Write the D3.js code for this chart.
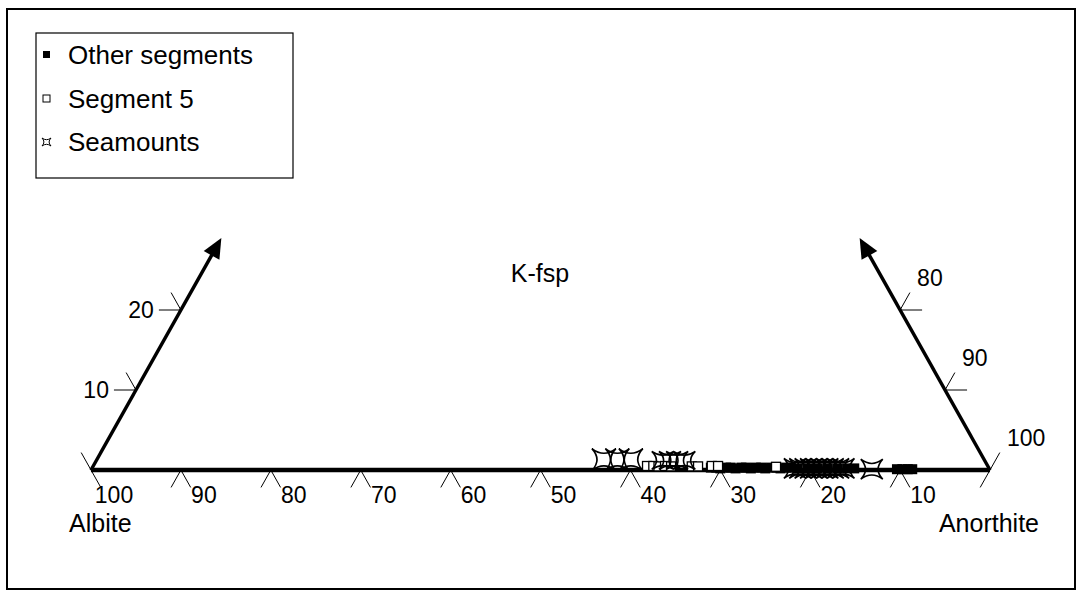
<!DOCTYPE html>
<html>
<head>
<meta charset="utf-8">
<script src="https://cdn.jsdelivr.net/npm/d3@7/dist/d3.min.js"></script>
<style>
  html, body { margin: 0; padding: 0; background: #fff; }
  svg { display: block; }
  text { font-family: "Liberation Sans", Arial, sans-serif; fill: #000; }
</style>
</head>
<body>
<svg id="chart" width="1081" height="594"></svg>
<script>
// Feldspar ternary: Albite – Anorthite – K-feldspar (mol %)
// Each sample given as An and Or; Ab = 100 - An - Or.

const seriesNames = ["Other segments", "Segment 5", "Seamounts"];

const otherAn = [68.8, 69.4, 69.9, 70.5, 71.0, 71.6, 72.2, 72.7, 73.3, 73.8, 74.4, 74.9, 75.5, 76.1, 76.6, 77.2, 77.7,
                 78.5, 79.6, 80.7, 81.8, 82.9, 84.0, 84.8, 89.6, 90.2, 90.8, 91.3];
const otherOr = [0.3, 0.3, 0.2, 0.3, 0.3, 0.2, 0.3, 0.3, 0.2, 0.3, 0.3, 0.2, 0.3, 0.3, 0.2, 0.3, 0.3,
                 0.2, 0.2, 0.2, 0.2, 0.2, 0.2, 0.2, 0.1, 0.1, 0.1, 0.1];

const seg5An = [61.6, 62.3, 62.9, 63.6, 64.3, 66.6, 67.3, 68.8, 69.5, 76.0];
const seg5Or = [0.5, 0.5, 0.45, 0.5, 0.45, 0.45, 0.45, 0.5, 0.5, 0.4];

const seamountAn = [56.4, 57.9, 59.4, 63.0, 63.8, 64.6, 65.4,
                    78.2, 78.8, 79.4, 80.0, 80.6, 81.2, 81.8, 82.4, 83.0, 83.6, 86.8];
const seamountOr = [1.3, 1.3, 1.3, 1.2, 1.2, 1.2, 1.2,
                    0.2, 0.2, 0.2, 0.2, 0.2, 0.2, 0.2, 0.2, 0.2, 0.2, 0.1];

const bottomTicks = [100, 90, 80, 70, 60, 50, 40, 30, 20, 10, 0];   // Albite %
const leftTicks = [0, 10, 20];                                     // K-fsp %
const rightTicks = [100, 90, 80];                                  // Anorthite %
const arrowReach = 29;                                             // K-fsp % where the side arrows stop

const tickFont = 23, titleFont = 25, legendFont = 26;

const svg = d3.select("#chart");

// Horizontal position of the baseline (An %) and vertical height (Or %)
const xS = d3.scaleLinear().domain([0, 100]).range([91, 990]);
const yS = d3.scaleLinear().domain([0, 100]).range([470, -330]);
const proj = (an, or) => [xS(an + or / 2), yS(or)];

// Outer frame
svg.append("rect")
  .attr("x", 7).attr("y", 9).attr("width", 1068).attr("height", 580)
  .attr("fill", "none").attr("stroke", "#000").attr("stroke-width", 2);

// Unit vectors along the two sloping sides
const [ax, ay] = proj(0, 0), [tx, ty] = proj(0, 100);
const L = Math.hypot(tx - ax, ty - ay);
const leg = 20;
const ux = (tx - ax) / L * leg, uy = (ty - ay) / L * leg;   // up-right (left side)

const g = svg.append("g");
const line = (x1, y1, x2, y2, w) => g.append("line")
  .attr("x1", x1).attr("y1", y1).attr("x2", x2).attr("y2", y2)
  .attr("stroke", "#000").attr("stroke-width", w);

// Bottom (Albite) ticks: two short legs pointing away from the triangle
bottomTicks.forEach(ab => {
  const [x, y] = proj(100 - ab, 0);
  if (ab < 100) line(x, y, x - ux, y - uy, 1);
  if (ab > 0) line(x, y, x + ux, y - uy, 1);
  if (ab > 0) {
    g.append("text").attr("x", x + 23).attr("y", y + 25)
      .attr("text-anchor", "middle").attr("dominant-baseline", "central")
      .attr("font-size", tickFont).text(ab);
  }
});

// Left side (K-fsp) ticks
leftTicks.forEach(or => {
  const [x, y] = proj(0, or);
  line(x, y, x - ux, y + uy, 1);
  if (or > 0) {
    line(x, y, x - 22, y, 1);
    g.append("text").attr("x", x - 27).attr("y", y)
      .attr("text-anchor", "end").attr("dominant-baseline", "central")
      .attr("font-size", tickFont).text(or);
  }
});

// Right side (Anorthite) ticks
rightTicks.forEach(an => {
  const [x, y] = proj(an, 100 - an);
  line(x, y, x + ux, y + uy, 1);
  if (an < 100) line(x, y, x + 22, y, 1);
  g.append("text").attr("x", x + 17).attr("y", y - 32)
    .attr("text-anchor", "start").attr("dominant-baseline", "central")
    .attr("font-size", tickFont).text(an);
});

// Baseline
const [bx0, by0] = proj(0, 0), [bx1, by1] = proj(100, 0);
line(bx0, by0, bx1, by1, 4.5);

// Side arrows
function arrow(from, to) {
  const dx = to[0] - from[0], dy = to[1] - from[1], d = Math.hypot(dx, dy);
  const ex = dx / d, ey = dy / d, len = 20, hw = 9;
  const bx = to[0] - ex * len, by = to[1] - ey * len;
  line(from[0], from[1], bx + ex * 2, by + ey * 2, 3.5);
  g.append("path")
    .attr("d", `M${to[0]},${to[1]} L${bx - ey * hw},${by + ex * hw} L${bx + ey * hw},${by - ex * hw} Z`)
    .attr("fill", "#000");
}
arrow(proj(0, 0), proj(0, arrowReach));
arrow(proj(100, 0), proj(100 - arrowReach, arrowReach));

// Corner and apex labels
svg.append("text").attr("x", 69).attr("y", 523).attr("dominant-baseline", "central")
  .attr("font-size", titleFont).text("Albite");
svg.append("text").attr("x", 1039).attr("y", 523).attr("text-anchor", "end")
  .attr("dominant-baseline", "central").attr("font-size", titleFont).text("Anorthite");
svg.append("text").attr("x", 540).attr("y", 273).attr("text-anchor", "middle")
  .attr("dominant-baseline", "central").attr("font-size", titleFont).text("K-fsp");

// Four-pointed star with pinched sides
const starPath = (w, h) => {
  const k = 0.15;
  return `M${-w},${-h} Q0,${-h * k} ${w},${-h} Q${w * k},0 ${w},${h} Q0,${h * k} ${-w},${h} Q${-w * k},0 ${-w},${-h} Z`;
};

const marks = svg.append("g");

// Other segments (filled squares)
marks.selectAll("rect.other")
  .data(d3.zip(otherAn, otherOr))
  .join("rect")
  .attr("class", "other")
  .attr("x", d => proj(d[0], d[1])[0] - 5)
  .attr("y", d => proj(d[0], d[1])[1] - 5)
  .attr("width", 10).attr("height", 10)
  .attr("fill", "#000");

// Segment 5 (open squares)
marks.selectAll("rect.seg5")
  .data(d3.zip(seg5An, seg5Or))
  .join("rect")
  .attr("class", "seg5")
  .attr("x", d => proj(d[0], d[1])[0] - 4.5)
  .attr("y", d => proj(d[0], d[1])[1] - 4.5)
  .attr("width", 9).attr("height", 9)
  .attr("fill", "#fff").attr("stroke", "#000").attr("stroke-width", 1.3);

// Seamounts (open four-pointed stars)
marks.selectAll("path.seamount")
  .data(d3.zip(seamountAn, seamountOr))
  .join("path")
  .attr("class", "seamount")
  .attr("transform", d => `translate(${proj(d[0], d[1])})`)
  .attr("d", (d, i) => i < 3 ? starPath(12, 11) : i < 7 ? starPath(11, 9) : starPath(11, 10))
  .attr("fill", "none").attr("stroke", "#000").attr("stroke-width", 1.6);

// Legend
const lg = svg.append("g");
lg.append("rect").attr("x", 36).attr("y", 33).attr("width", 257).attr("height", 145)
  .attr("fill", "#fff").attr("stroke", "#000").attr("stroke-width", 1.2);
const rowY = [55, 99, 142];
seriesNames.forEach((name, i) => {
  const y = rowY[i];
  if (i === 0) lg.append("rect").attr("x", 43).attr("y", y - 4).attr("width", 7).attr("height", 7).attr("fill", "#000");
  if (i === 1) lg.append("rect").attr("x", 43).attr("y", y - 4).attr("width", 7).attr("height", 7)
    .attr("fill", "#fff").attr("stroke", "#000").attr("stroke-width", 1);
  if (i === 2) lg.append("path").attr("transform", `translate(46.5,${y})`).attr("d", starPath(4.5, 4))
    .attr("fill", "#fff").attr("stroke", "#000").attr("stroke-width", 1);
  lg.append("text").attr("x", 68).attr("y", y).attr("dominant-baseline", "central")
    .attr("font-size", legendFont).text(name);
});
</script>
</body>
</html>
